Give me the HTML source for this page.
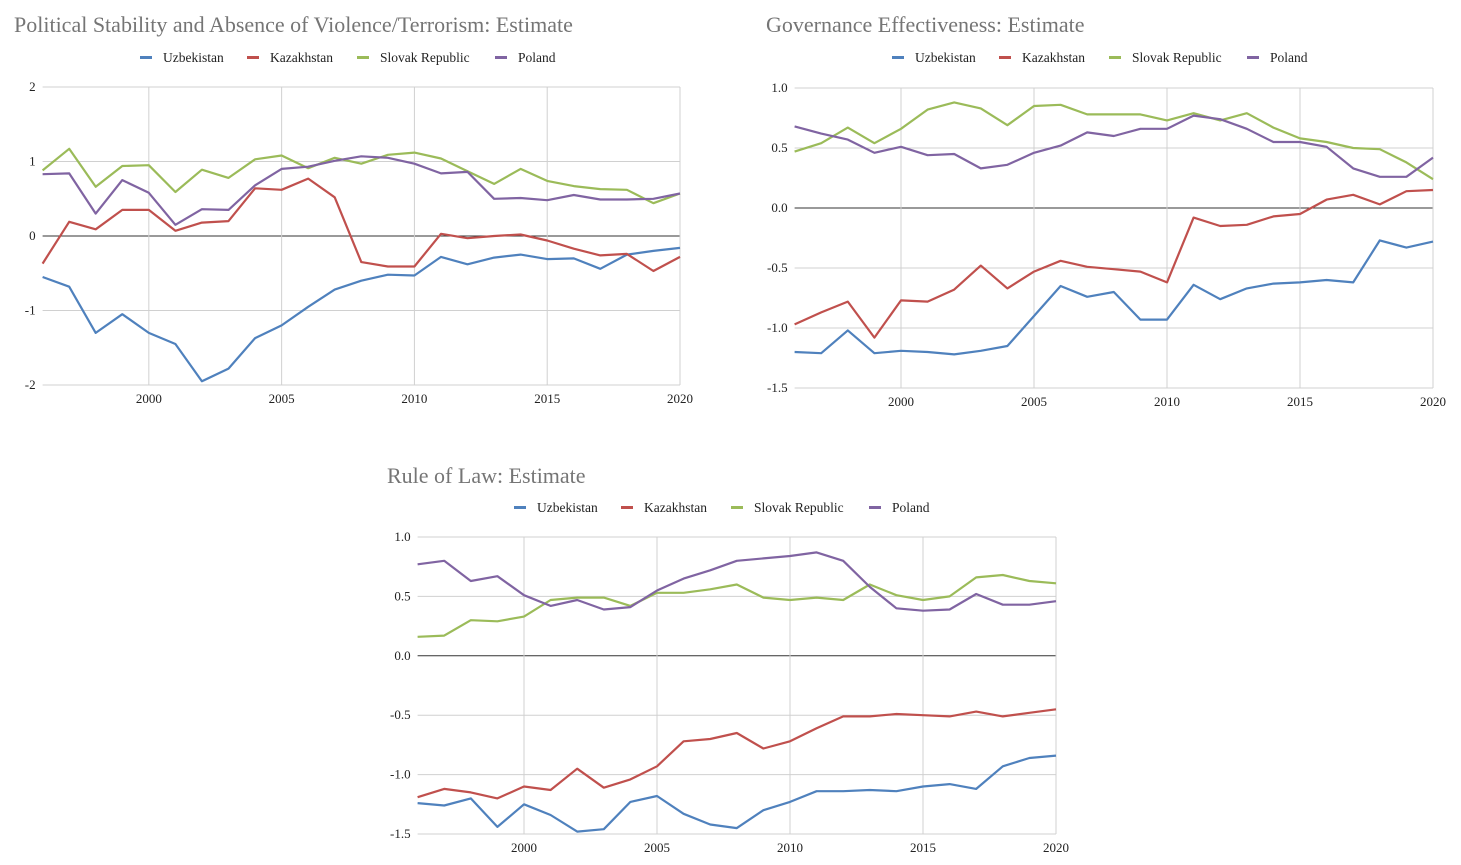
<!DOCTYPE html>
<html><head><meta charset="utf-8"><style>
html,body{margin:0;padding:0;background:#fff;}
svg{display:block;font-family:"Liberation Serif",serif;}
</style></head><body>
<svg id="s" width="1461" height="865" viewBox="0 0 1461 865"></svg>
<script>
const years=[1996,1997,1998,1999,2000,2001,2002,2003,2004,2005,2006,2007,2008,2009,2010,2011,2012,2013,2014,2015,2016,2017,2018,2019,2020];
const seriesNames=["Uzbekistan","Kazakhstan","Slovak Republic","Poland"];
const xTicks=[2000,2005,2010,2015,2020];
const psUzb=[-0.55,-0.68,-1.3,-1.05,-1.3,-1.45,-1.95,-1.78,-1.37,-1.2,-0.95,-0.72,-0.6,-0.52,-0.53,-0.28,-0.38,-0.29,-0.25,-0.31,-0.3,-0.44,-0.25,-0.2,-0.16];
const psKaz=[-0.37,0.19,0.09,0.35,0.35,0.07,0.18,0.2,0.64,0.62,0.77,0.52,-0.35,-0.41,-0.41,0.03,-0.03,0.0,0.02,-0.06,-0.17,-0.26,-0.24,-0.47,-0.28];
const psSvk=[0.88,1.17,0.66,0.94,0.95,0.59,0.89,0.78,1.03,1.08,0.91,1.05,0.97,1.09,1.12,1.04,0.87,0.7,0.9,0.74,0.67,0.63,0.62,0.44,0.57];
const psPol=[0.83,0.84,0.3,0.75,0.58,0.15,0.36,0.35,0.68,0.9,0.93,1.01,1.07,1.05,0.97,0.84,0.86,0.5,0.51,0.48,0.55,0.49,0.49,0.5,0.57];
const psTicks=[2,1,0,-1,-2];
const geUzb=[-1.2,-1.21,-1.02,-1.21,-1.19,-1.2,-1.22,-1.19,-1.15,-0.9,-0.65,-0.74,-0.7,-0.93,-0.93,-0.64,-0.76,-0.67,-0.63,-0.62,-0.6,-0.62,-0.27,-0.33,-0.28];
const geKaz=[-0.97,-0.87,-0.78,-1.08,-0.77,-0.78,-0.68,-0.48,-0.67,-0.53,-0.44,-0.49,-0.51,-0.53,-0.62,-0.08,-0.15,-0.14,-0.07,-0.05,0.07,0.11,0.03,0.14,0.15];
const geSvk=[0.47,0.54,0.67,0.54,0.66,0.82,0.88,0.83,0.69,0.85,0.86,0.78,0.78,0.78,0.73,0.79,0.73,0.79,0.67,0.58,0.55,0.5,0.49,0.38,0.24];
const gePol=[0.68,0.62,0.57,0.46,0.51,0.44,0.45,0.33,0.36,0.46,0.52,0.63,0.6,0.66,0.66,0.77,0.74,0.66,0.55,0.55,0.51,0.33,0.26,0.26,0.42];
const rlUzb=[-1.24,-1.26,-1.2,-1.44,-1.25,-1.34,-1.48,-1.46,-1.23,-1.18,-1.33,-1.42,-1.45,-1.3,-1.23,-1.14,-1.14,-1.13,-1.14,-1.1,-1.08,-1.12,-0.93,-0.86,-0.84];
const rlKaz=[-1.19,-1.12,-1.15,-1.2,-1.1,-1.13,-0.95,-1.11,-1.04,-0.93,-0.72,-0.7,-0.65,-0.78,-0.72,-0.61,-0.51,-0.51,-0.49,-0.5,-0.51,-0.47,-0.51,-0.48,-0.45];
const rlSvk=[0.16,0.17,0.3,0.29,0.33,0.47,0.49,0.49,0.42,0.53,0.53,0.56,0.6,0.49,0.47,0.49,0.47,0.6,0.51,0.47,0.5,0.66,0.68,0.63,0.61];
const rlPol=[0.77,0.8,0.63,0.67,0.51,0.42,0.47,0.39,0.41,0.55,0.65,0.72,0.8,0.82,0.84,0.87,0.8,0.58,0.4,0.38,0.39,0.52,0.43,0.43,0.46];
const tickLabels15=["1.0","0.5","0.0","-0.5","-1.0","-1.5"];
const ticks15=[1,0.5,0,-0.5,-1,-1.5];

const colors=["#4f81bd","#c0504d","#9bbb59","#8064a2"];
const NS="http://www.w3.org/2000/svg";
const svg=document.getElementById('s');
function el(tag,attrs,parent,text){const e=document.createElementNS(NS,tag);for(const k in attrs)e.setAttribute(k,attrs[k]);if(text!==undefined)e.textContent=text;(parent||svg).appendChild(e);return e;}

function chart(cfg){
  const g=el('g',{});
  
  
  const x=v=>cfg.x0+(v-1996)*(cfg.x1-cfg.x0)/24;
  const y=v=>cfg.y0+(cfg.ymax-v)*(cfg.y1-cfg.y0)/(cfg.ymax-cfg.ymin);
  const t=el('text',{x:cfg.tx,y:cfg.ty,'font-size':22,fill:'#757575'},g,cfg.title);
  
  
  // legend
  let lx=cfg.lx;
  const widths=[107,110,138,60];
  seriesNames.forEach((n,i)=>{
    const lg=el('g',{},g);
    
    
    el('rect',{x:lx,y:cfg.ly-6,width:12,height:3,fill:colors[i]},lg);
    el('text',{x:lx+23,y:cfg.ly,'font-size':13.5,fill:'#222'},lg,n);
    lx+=widths[i];
  });
  // grid
  cfg.ticks.forEach((tv,i)=>{
    const gl=el('line',{x1:cfg.x0,x2:cfg.x1,y1:y(tv),y2:y(tv),stroke:tv===0?'#333':'#d0d0d0','stroke-width':1},g);
    
    
    const lb=el('text',{x:cfg.x0-7,y:y(tv)+4,'font-size':13,'text-anchor':'end',fill:'#222'},g,cfg.tickLabels[i]);
    
    
  });
  xTicks.forEach(xv=>{
    const gl=el('line',{x1:x(xv),x2:x(xv),y1:cfg.y0,y2:cfg.y1,stroke:'#d0d0d0','stroke-width':1},g);
    
    
    const lb=el('text',{x:x(xv),y:cfg.y1+18,'font-size':13,'text-anchor':'middle',fill:'#222'},g,String(xv));
    
    
  });
  cfg.data.forEach((arr,i)=>{
    const d=arr.map((v,j)=>(j?'L':'M')+x(years[j]).toFixed(1)+','+y(v).toFixed(1)).join('');
    const p=el('path',{d:d,fill:'none',stroke:colors[i],'stroke-width':2.2,'stroke-linejoin':'round'},g);
    
    
  });
}
chart({name:'political-stability-chart',title:'Political Stability and Absence of Violence/Terrorism: Estimate',tx:14,ty:32,lx:140,ly:62,
  x0:42.6,x1:680,y0:87,y1:385,ymax:2,ymin:-2,ticks:psTicks,tickLabels:psTicks.map(String),data:[psUzb,psKaz,psSvk,psPol]});
chart({name:'governance-effectiveness-chart',title:'Governance Effectiveness: Estimate',tx:766,ty:32,lx:892,ly:62,
  x0:794.6,x1:1433,y0:88,y1:388,ymax:1,ymin:-1.5,ticks:ticks15,tickLabels:tickLabels15,data:[geUzb,geKaz,geSvk,gePol]});
chart({name:'rule-of-law-chart',title:'Rule of Law: Estimate',tx:387,ty:483,lx:514,ly:512,
  x0:417.6,x1:1056,y0:537,y1:834,ymax:1,ymin:-1.5,ticks:ticks15,tickLabels:tickLabels15,data:[rlUzb,rlKaz,rlSvk,rlPol]});
</script>
</body></html>
